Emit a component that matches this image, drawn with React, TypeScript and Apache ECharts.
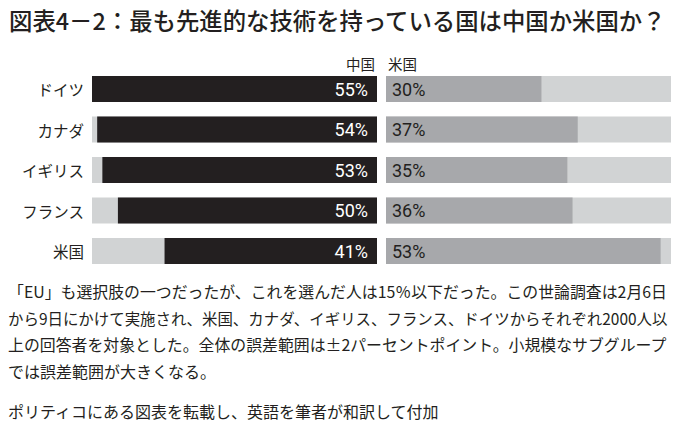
import { useEffect, useRef } from "react";
import * as echarts from "echarts";

const countries = ["ドイツ", "カナダ", "イギリス", "フランス", "米国"];
const chinaValues = [55, 54, 53, 50, 41];
const usValues = [30, 37, 35, 36, 53];
const seriesNames = ["中国", "米国"];

const titleText = "図表4－2：最も先進的な技術を持っている国は中国か米国か？";
const noteLines = [
  "「EU」も選択肢の一つだったが、これを選んだ人は15％以下だった。この世論調査は2月6日",
  "から9日にかけて実施され、米国、カナダ、イギリス、フランス、ドイツからそれぞれ2000人以",
  "上の回答者を対象とした。全体の誤差範囲は±2パーセントポイント。小規模なサブグループ",
  "では誤差範囲が大きくなる。",
];
const sourceText = "ポリティコにある図表を転載し、英語を筆者が和訳して付加";

const JP = '"Noto Sans CJK JP", sans-serif';
const NUM = '"Liberation Sans Narrow", "Roboto", sans-serif';
const DARK = "#231f20";
const MID = "#a7a8ab";
const LIGHT = "#d1d3d4";

// shrink a line's font size so that it fits a width
function fitSize(text: string, maxSize: number, maxWidth: number, weight = "400") {
  const ctx = document.createElement("canvas").getContext("2d");
  if (!ctx) return maxSize;
  ctx.font = `${weight} ${maxSize}px ${JP}`;
  const w = ctx.measureText(text).width;
  return w > maxWidth ? (maxSize * maxWidth) / w : maxSize;
}

export default function App() {
  const chartRef = useRef<HTMLDivElement>(null);

  useEffect(() => {
    document.body.style.margin = "0";
    if (!chartRef.current) return;
    const chart = echarts.init(chartRef.current, null, { renderer: "svg" });

    const gridTop = 68.75;
    const gridHeight = 202.5;

    const noteY = [291, 317.5, 344, 370.5];
    const titleSize = fitSize(titleText, 24, 658, "500");

    const option = {
      animation: false,
      grid: [
        { left: 92, width: 285, top: gridTop, height: gridHeight },
        { left: 386, width: 285, top: gridTop, height: gridHeight },
      ],
      xAxis: [
        { type: "value", gridIndex: 0, min: 0, max: 55, inverse: true, show: false },
        { type: "value", gridIndex: 1, min: 0, max: 55, show: false },
      ],
      yAxis: [
        {
          type: "category",
          gridIndex: 0,
          data: countries,
          inverse: true,
          axisLine: { show: false },
          axisTick: { show: false },
          axisLabel: { margin: 8, fontFamily: JP, fontSize: 15.5, color: DARK },
        },
        {
          type: "category",
          gridIndex: 1,
          data: countries,
          inverse: true,
          show: false,
        },
      ],
      series: [
        {
          name: seriesNames[0],
          type: "bar",
          xAxisIndex: 0,
          yAxisIndex: 0,
          data: chinaValues,
          barWidth: 26,
          itemStyle: { color: DARK },
          showBackground: true,
          backgroundStyle: { color: LIGHT },
          label: {
            show: true,
            position: "insideRight",
            distance: 9,
            formatter: "{c}%",
            color: "#ffffff",
            fontFamily: NUM,
            fontSize: 18,
          },
        },
        {
          name: seriesNames[1],
          type: "bar",
          xAxisIndex: 1,
          yAxisIndex: 1,
          data: usValues,
          barWidth: 26,
          itemStyle: { color: MID },
          showBackground: true,
          backgroundStyle: { color: LIGHT },
          label: {
            show: true,
            position: "insideLeft",
            distance: 6,
            formatter: "{c}%",
            color: DARK,
            fontFamily: NUM,
            fontSize: 18,
          },
        },
      ],
      graphic: [
        {
          type: "text",
          x: 9,
          y: 20,
          style: {
            text: titleText,
            font: `500 ${titleSize}px ${JP}`,
            fill: DARK,
            verticalAlign: "middle",
          },
        },
        {
          type: "text",
          x: 375,
          y: 63,
          style: {
            text: seriesNames[0],
            font: `14.5px ${JP}`,
            fill: DARK,
            align: "right",
            verticalAlign: "middle",
          },
        },
        {
          type: "text",
          x: 388,
          y: 63,
          style: {
            text: seriesNames[1],
            font: `14.5px ${JP}`,
            fill: DARK,
            align: "left",
            verticalAlign: "middle",
          },
        },
        ...noteLines.map((line, i) => ({
          type: "text",
          x: 8,
          y: noteY[i],
          style: {
            text: line,
            font: `${fitSize(line, 16, 660)}px ${JP}`,
            fill: DARK,
            verticalAlign: "middle",
          },
        })),
        {
          type: "text",
          x: 8,
          y: 411,
          style: {
            text: sourceText,
            font: `16px ${JP}`,
            fill: DARK,
            verticalAlign: "middle",
          },
        },
      ],
    };

    chart.setOption(option);

    return () => {
      chart.dispose();
    };
  }, []);

  return <div ref={chartRef} style={{ width: 688, height: 431 }} />;
}
